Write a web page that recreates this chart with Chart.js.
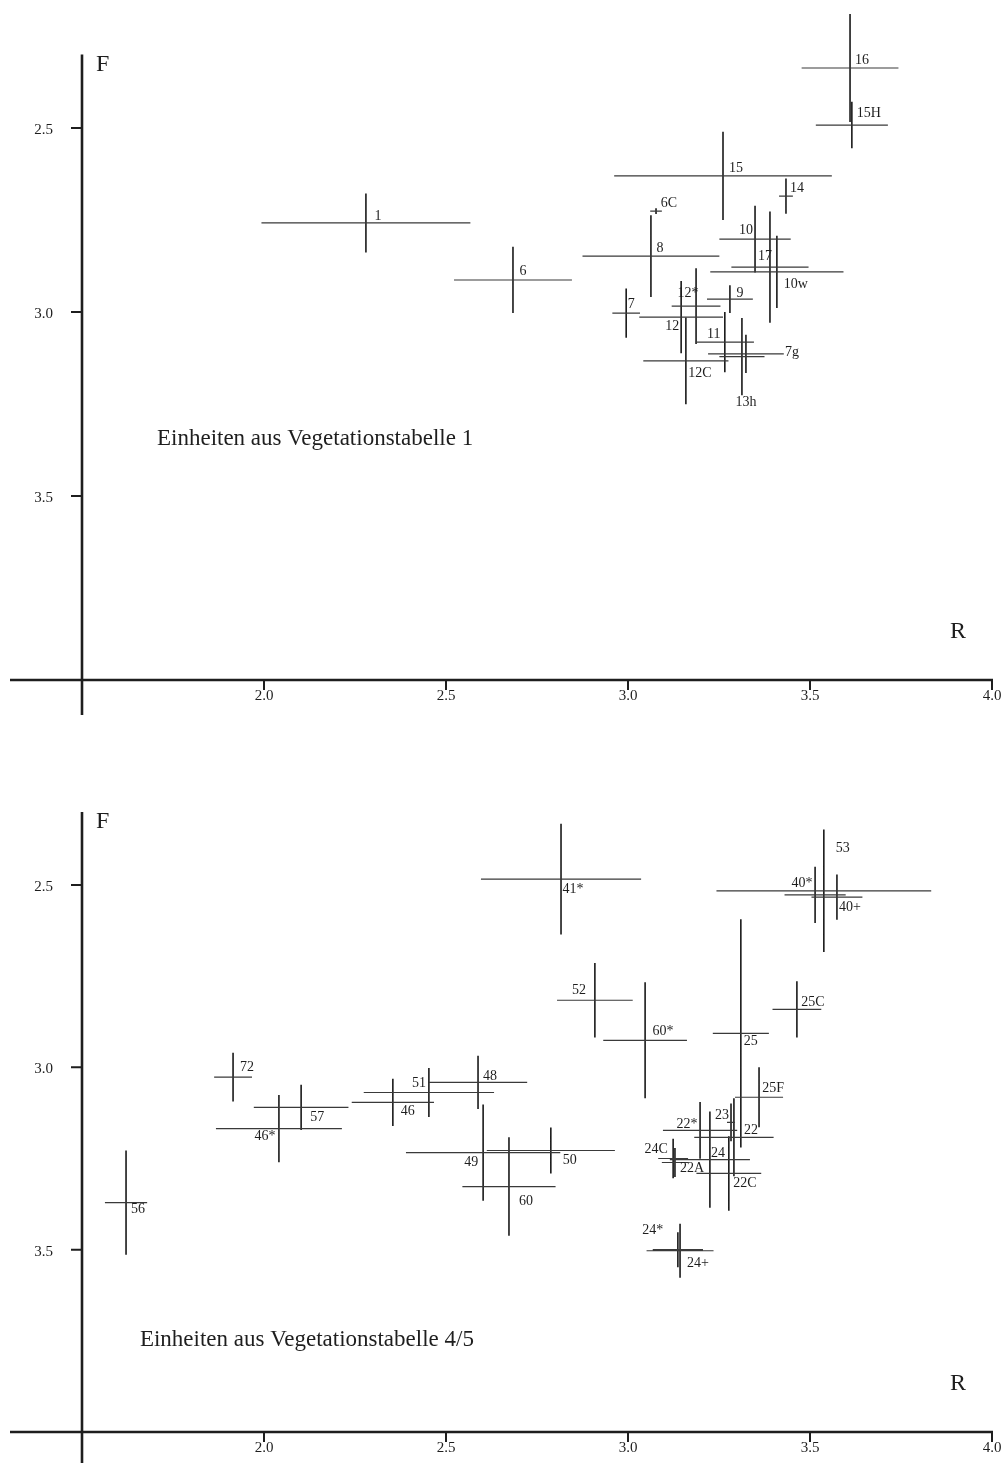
<!DOCTYPE html>
<html>
<head>
<meta charset="utf-8">
<script src="https://cdn.jsdelivr.net/npm/chart.js@4.4.1/dist/chart.umd.min.js"></script>
<style>
  html, body { margin: 0; padding: 0; background: #fff; }
  #wrap { position: relative; width: 1006px; height: 1463px; }
  canvas { position: absolute; left: 0; }
  #panel1 { top: 0; }
  #panel2 { top: 730px; }
</style>
</head>
<body>
<div id="wrap">
  <canvas id="panel1" width="1006" height="730"></canvas>
  <canvas id="panel2" width="1006" height="733"></canvas>
</div>
<script>
// Axis ticks shared by both panels
const xTicks = [2.0, 2.5, 3.0, 3.5, 4.0];
const yTicks = [2.5, 3.0, 3.5];

// Units from Vegetationstabelle 1: mean reaction (R) and moisture (F) values with their spread
const units1 = ['1', '6', '6C', '7', '7g', '8', '9', '10', '10w', '11', '12', '12*', '12C', '13h', '14', '15', '15H', '16', '17'];
const r1     = [2.28, 2.684, 3.077, 2.995, 3.324, 3.063, 3.28, 3.349, 3.409, 3.266, 3.146, 3.187, 3.159, 3.313, 3.434, 3.261, 3.615, 3.61, 3.39];
const rSd1   = [0.287, 0.162, 0.016, 0.038, 0.104, 0.188, 0.063, 0.098, 0.183, 0.08, 0.115, 0.067, 0.117, 0.062, 0.019, 0.299, 0.099, 0.133, 0.106];
const f1     = [2.758, 2.913, 2.726, 3.003, 3.114, 2.848, 2.965, 2.802, 2.891, 3.082, 3.014, 2.984, 3.133, 3.121, 2.685, 2.63, 2.492, 2.337, 2.878];
const fSd1   = [0.08, 0.09, 0.008, 0.067, 0.052, 0.111, 0.038, 0.091, 0.098, 0.082, 0.098, 0.103, 0.118, 0.105, 0.048, 0.12, 0.063, 0.147, 0.151];

// Units from Vegetationstabelle 4/5
const units2 = ['72', '57', '46*', '46', '51', '48', '49', '50', '60', '56', '41*', '53', '40*', '40+', '52', '60*', '25', '25C', '25F', '22*', '23', '22', '24', '24C', '22A', '22C', '24*', '24+'];
const r2     = [1.915, 2.102, 2.041, 2.354, 2.453, 2.588, 2.602, 2.788, 2.673, 1.621, 2.816, 3.538, 3.514, 3.574, 2.909, 3.047, 3.31, 3.464, 3.36, 3.198, 3.283, 3.291, 3.225, 3.124, 3.129, 3.277, 3.137, 3.143];
const rSd2   = [0.052, 0.13, 0.173, 0.113, 0.179, 0.135, 0.212, 0.176, 0.128, 0.058, 0.22, 0.295, 0.084, 0.07, 0.104, 0.115, 0.077, 0.067, 0.066, 0.102, 0.011, 0.109, 0.11, 0.041, 0.036, 0.089, 0.069, 0.092];
const f2     = [3.027, 3.11, 3.168, 3.096, 3.069, 3.041, 3.234, 3.228, 3.327, 3.371, 2.484, 2.516, 2.527, 2.533, 2.816, 2.926, 2.907, 2.841, 3.082, 3.173, 3.151, 3.192, 3.253, 3.25, 3.261, 3.291, 3.5, 3.503];
const fSd2   = [0.067, 0.062, 0.092, 0.065, 0.067, 0.073, 0.132, 0.063, 0.135, 0.143, 0.152, 0.168, 0.077, 0.062, 0.102, 0.159, 0.313, 0.077, 0.082, 0.078, 0.052, 0.107, 0.132, 0.054, 0.04, 0.102, 0.048, 0.074];

// Where each unit's name sits relative to its cross (pixels)
const labelShift1 = {
  '1': [12, -7], '6': [10, -9], '6C': [13, -8], '7': [5, -9], '7g': [46, -2], '8': [9, -8],
  '9': [10, -6], '10': [-9, -9], '10w': [19, 12], '11': [-11, -8], '12': [-9, 9], '12*': [-8, -13],
  '12C': [14, 12], '13h': [4, 46], '14': [11, -8], '15': [13, -8], '15H': [17, -12], '16': [12, -8], '17': [-5, -11]
};
const labelShift2 = {
  '72': [14, -10], '57': [16, 10], '46*': [-14, 8], '46': [15, 9], '51': [-10, -9], '48': [12, -6],
  '49': [-12, 10], '50': [19, 10], '60': [17, 15], '56': [12, 7], '41*': [12, 10], '53': [19, -43],
  '40*': [-13, -12], '40+': [13, 10], '52': [-16, -10], '60*': [18, -9], '25': [10, 8], '25C': [16, -7],
  '25F': [14, -9], '22*': [-13, -6], '23': [-9, -7], '22': [17, -7], '24': [8, -6], '24C': [-17, -9],
  '22A': [17, 6], '22C': [16, 10], '24*': [-25, -19], '24+': [18, 13]
};

const INK = '#1e1e1e';
const SERIF = '"Liberation Serif", "DejaVu Serif", serif';

// Horizontal (R spread) and vertical (F spread) bars, separated by gaps
function barPoints(r, rSd, f, fSd) {
  const horiz = [], vert = [];
  for (let i = 0; i < r.length; i++) {
    horiz.push({ x: r[i] - rSd[i], y: f[i] }, { x: r[i] + rSd[i], y: f[i] }, { x: r[i], y: null });
    vert.push({ x: r[i], y: f[i] - fSd[i] }, { x: r[i], y: f[i] + fSd[i] }, { x: r[i], y: null });
  }
  return { horiz, vert };
}

const framePlugin = {
  id: 'frame',
  afterDatasetsDraw(chart, args, o) {
    const ctx = chart.ctx;
    const xs = chart.scales.x, ys = chart.scales.y;
    const x0 = xs.getPixelForValue(1.5);
    const xEnd = xs.getPixelForValue(4.0);
    const yBase = ys.getPixelForValue(4.0);
    const yTop = ys.getPixelForValue(2.3);
    ctx.save();
    ctx.strokeStyle = INK;
    ctx.lineCap = 'butt';

    // axes: the R axis runs past the F axis, and the F axis runs below the R axis
    ctx.lineWidth = 2.6;
    ctx.beginPath();
    ctx.moveTo(10, yBase); ctx.lineTo(xEnd + 1, yBase);
    ctx.moveTo(x0, yTop); ctx.lineTo(x0, yBase + 35);
    ctx.stroke();

    ctx.lineWidth = 2;
    ctx.beginPath();
    xTicks.forEach(t => { const p = xs.getPixelForValue(t); ctx.moveTo(p, yBase); ctx.lineTo(p, yBase + 10); });
    yTicks.forEach(t => { const p = ys.getPixelForValue(t); ctx.moveTo(x0 - 11, p); ctx.lineTo(x0, p); });
    ctx.stroke();

    ctx.fillStyle = INK;
    ctx.font = '15px ' + SERIF;
    ctx.textBaseline = 'middle';
    ctx.textAlign = 'center';
    xTicks.forEach(t => ctx.fillText(t.toFixed(1), xs.getPixelForValue(t), yBase + 16));
    ctx.textAlign = 'right';
    yTicks.forEach(t => ctx.fillText(t.toFixed(1), x0 - 29, ys.getPixelForValue(t) + 2));

    // axis names
    ctx.font = '24px ' + SERIF;
    ctx.textAlign = 'left';
    ctx.fillText('F', x0 + 14, yTop + 10);
    ctx.textAlign = 'center';
    ctx.fillText('R', 958, yBase - 48);

    // caption
    ctx.font = '23px ' + SERIF;
    ctx.textAlign = 'left';
    ctx.fillText(o.caption, xs.getPixelForValue(o.captionAt[0]), ys.getPixelForValue(o.captionAt[1]));

    // unit names
    ctx.font = '14px ' + SERIF;
    ctx.textAlign = 'center';
    o.units.forEach((u, i) => {
      const s = o.shift[u] || [10, -8];
      ctx.fillText(u, xs.getPixelForValue(o.r[i]) + s[0], ys.getPixelForValue(o.f[i]) + s[1]);
    });
    ctx.restore();
  }
};

function makePanel(id, units, r, rSd, f, fSd, shift, caption, captionAt, pad) {
  const pts = barPoints(r, rSd, f, fSd);
  const line = (data, w, c) => ({
    data, showLine: true, pointRadius: 0, borderWidth: w, borderColor: c,
    spanGaps: false, clip: false, tension: 0
  });
  return new Chart(document.getElementById(id), {
    type: 'scatter',
    data: { datasets: [line(pts.horiz, 1.2, '#3a3a3a'), line(pts.vert, 1.6, '#1a1a1a')] },
    options: {
      responsive: false,
      animation: false,
      events: [],
      layout: { padding: pad },
      scales: {
        x: { type: 'linear', min: 1.5, max: 4.0, display: false },
        y: { type: 'linear', min: 2.2, max: 4.0, reverse: true, display: false }
      },
      plugins: {
        legend: { display: false },
        tooltip: { enabled: false },
        frame: { units, r, f, shift, caption, captionAt }
      }
    },
    plugins: [framePlugin]
  });
}

makePanel('panel1', units1, r1, rSd1, f1, fSd1, labelShift1,
  'Einheiten aus Vegetationstabelle 1', [1.706, 3.345],
  { left: 82, right: 14, top: 17.6, bottom: 50 });

makePanel('panel2', units2, r2, rSd2, f2, fSd2, labelShift2,
  'Einheiten aus Vegetationstabelle 4/5', [1.659, 3.748],
  { left: 82, right: 14, top: 45.6, bottom: 31 });
</script>
</body>
</html>
